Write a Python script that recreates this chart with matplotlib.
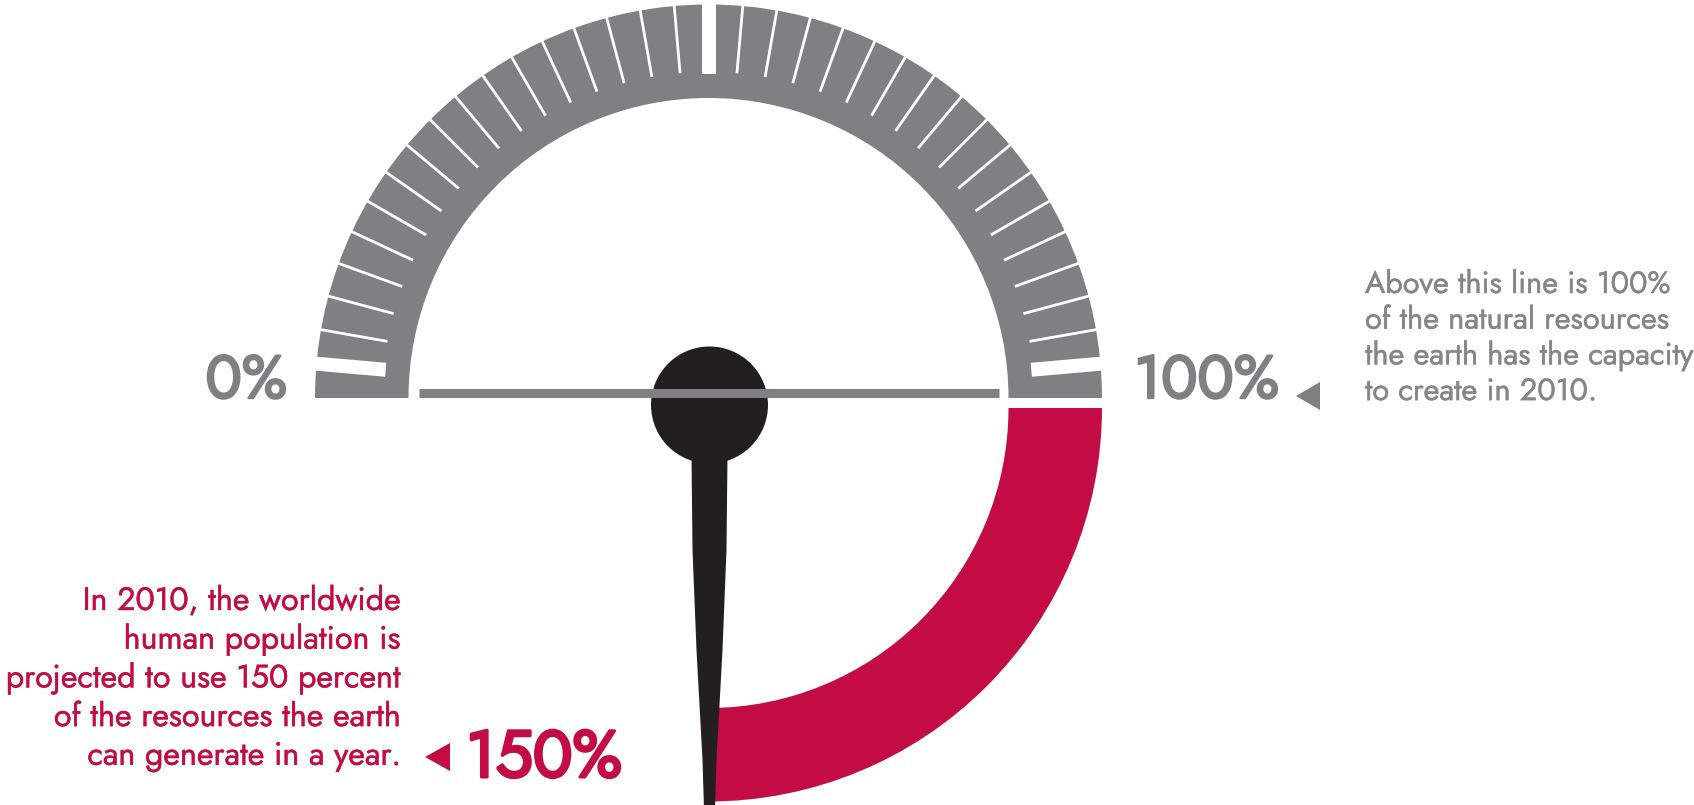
import numpy as np
import matplotlib
matplotlib.use("Agg")
import matplotlib.pyplot as plt
import matplotlib.patheffects as pe
from matplotlib.patches import Wedge, Circle, Polygon

plt.rcParams['font.family'] = ['Jost', 'Lato', 'DejaVu Sans']

# gauge values (percent of what the earth can generate in a year)
scale_values = [0, 100]
scale_labels = ["0%", "100%"]
usage_value = 150
usage_label = "150%"

note_right = ["Above this line is 100%",
              "of the natural resources",
              "the earth has the capacity",
              "to create in 2010."]
note_left = ["In 2010, the worldwide",
             "human population is",
             "projected to use 150 percent",
             "of the resources the earth",
             "can generate in a year."]

GRAY = "#807f83"
RED = "#c40c44"
BLACK = "#231f20"
TEXT_GRAY = "#86858a"

W, H = 1694, 805
CX, CY = 708.5, 407      # centre of the grey half ring
CY_RED = 397             # red quarter ring sits a little lower
R_OUT, RING = 393.5, 93.5


def ang(v):
    # 0% on the left, 100% on the right, 150% straight down
    return 180 - 1.8 * v


def heavy(color, w):
    # the font only has one weight, so thicken it with a stroke
    return [pe.withStroke(linewidth=w, foreground=color)]


fig = plt.figure(figsize=(W / 100, H / 100), dpi=100)
ax = fig.add_axes([0, 0, 1, 1])
ax.set_xlim(0, W)
ax.set_ylim(0, H)
ax.axis('off')

# grey scale 0..100
ax.add_patch(Wedge((CX, CY), R_OUT, ang(scale_values[1]), ang(scale_values[0]),
                   width=RING, color=GRAY, lw=0))

# tick marks every 5 degrees, thick ones at both ends and in the middle
for a in np.arange(5, 180, 5):
    t = np.radians(a)
    d = np.array([np.cos(t), np.sin(t)])
    if a in (5, 90, 175):
        n = np.array([-d[1], d[0]]) * 7
        p0 = np.array([CX, CY]) + d * 324
        p1 = np.array([CX, CY]) + d * 400
        ax.add_patch(Polygon([p0 + n, p1 + n, p1 - n, p0 - n], closed=True,
                             color="white", lw=0))
    else:
        ax.plot([CX + 326 * d[0], CX + 400 * d[0]],
                [CY + 326 * d[1], CY + 400 * d[1]],
                color="white", lw=2.0, solid_capstyle="butt")

# base line of the gauge
ax.plot([CX - 290, CX + 290], [CY + 5, CY + 5], color=GRAY, lw=6.5,
        solid_capstyle="butt")

# red part 100..150
ax.add_patch(Wedge((CX, CY_RED), R_OUT, ang(usage_value), ang(scale_values[1]),
                   width=RING, color=RED, lw=0))

# needle
t = np.radians(ang(usage_value))
d = np.array([np.cos(t), np.sin(t)])
n = np.array([-d[1], d[0]])
hub = np.array([CX + 1, 400])
dist = [50, 145, 245, 355, 420]
half = [18, 17, 13, 7, 5]
left = [hub + d * s + n * h for s, h in zip(dist, half)]
right = [hub + d * s - n * h for s, h in zip(dist, half)]
ax.add_patch(Polygon(left + right[::-1], closed=True, color=BLACK, lw=0))
ax.add_patch(Circle(hub, 58.5, color=BLACK, lw=0))

# scale labels
ax.text(287, CY, scale_labels[0], ha="right", va="baseline", fontsize=43.5,
        color=GRAY, path_effects=heavy(GRAY, 1.7))
ax.text(1134, CY, scale_labels[1], ha="left", va="baseline", fontsize=43.5,
        color=GRAY, path_effects=heavy(GRAY, 1.7))
ax.text(466, 28, usage_label, ha="left", va="baseline", fontsize=47.5,
        color=RED, path_effects=heavy(RED, 2.2))

# pointer triangles
ax.add_patch(Polygon([[1296, 409], [1320, 423], [1320, 395]], closed=True,
                     color=GRAY, lw=0))
ax.add_patch(Polygon([[425, 48], [450, 62], [450, 34]], closed=True,
                     color=RED, lw=0))

# notes
for i, s in enumerate(note_right):
    ax.text(1365, 512 - 35.7 * i, s, ha="left", va="baseline", fontsize=22.1,
            color=TEXT_GRAY, path_effects=heavy(TEXT_GRAY, 0.3))
for i, s in enumerate(note_left):
    ax.text(400, 195 - 38.7 * i, s, ha="right", va="baseline", fontsize=23.2,
            color=RED, path_effects=heavy(RED, 0.3))

fig.savefig("out.png", dpi=100)
